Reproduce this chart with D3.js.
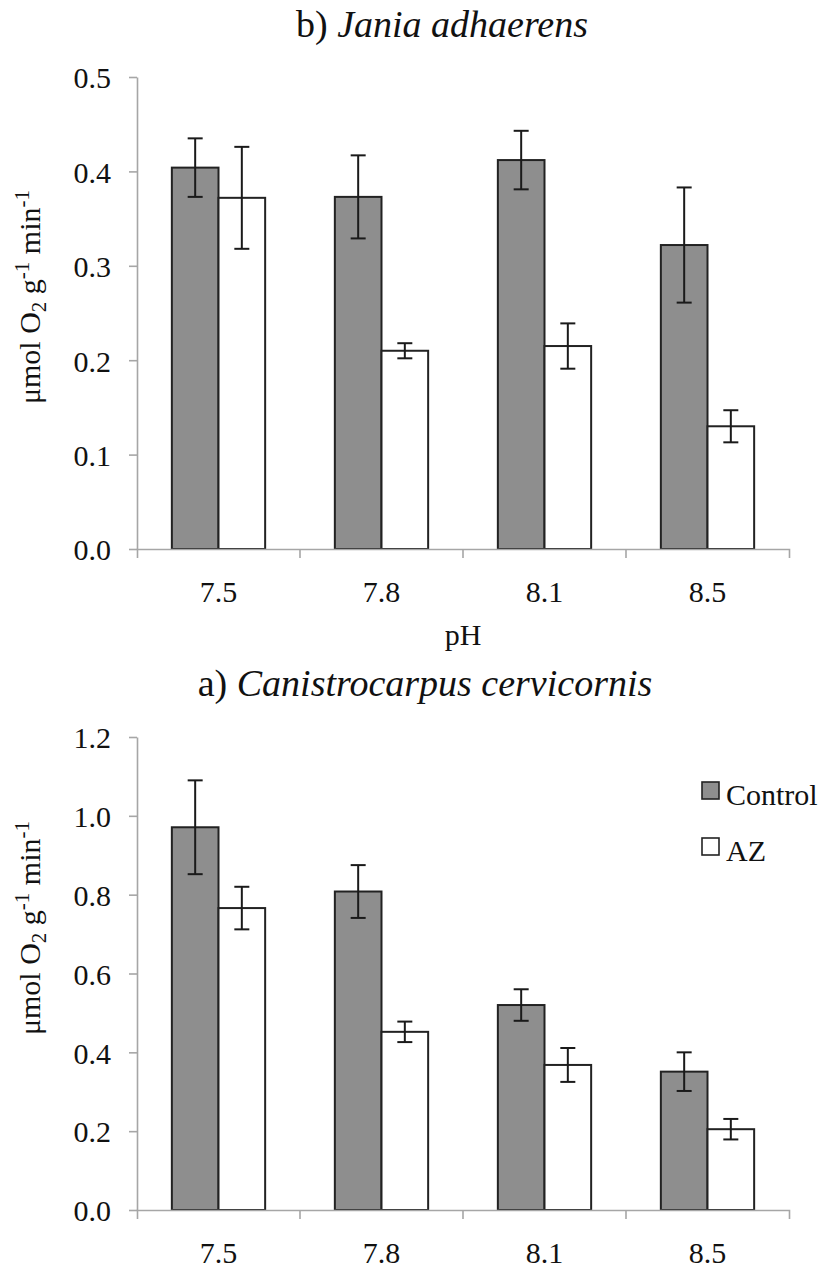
<!DOCTYPE html>
<html>
<head>
<meta charset="utf-8">
<script src="https://cdn.jsdelivr.net/npm/d3@7"></script>
<style>
  html, body { margin: 0; padding: 0; background: #fff; }
  svg { display: block; }
</style>
</head>
<body>
<svg id="chart" width="824" height="1269"></svg>
<script>
// pH treatments and series
const phLevels = ["7.5", "7.8", "8.1", "8.5"];
const seriesNames = ["Control", "AZ"];

// b) Jania adhaerens — mean rates and standard errors
const janiaControl    = [0.404, 0.373, 0.412, 0.322];
const janiaControlErr = [0.031, 0.044, 0.031, 0.061];
const janiaAZ         = [0.372, 0.210, 0.215, 0.130];
const janiaAZErr      = [0.054, 0.008, 0.024, 0.017];
const janiaTicks      = [0.0, 0.1, 0.2, 0.3, 0.4, 0.5];

// a) Canistrocarpus cervicornis — mean rates and standard errors
const canisControl    = [0.971, 0.808, 0.520, 0.351];
const canisControlErr = [0.119, 0.067, 0.040, 0.049];
const canisAZ         = [0.766, 0.452, 0.368, 0.205];
const canisAZErr      = [0.054, 0.026, 0.043, 0.026];
const canisTicks      = [0.0, 0.2, 0.4, 0.6, 0.8, 1.0, 1.2];

const seriesFill = { Control: "#8e8e8e", AZ: "#ffffff" };
const axisGrey = "#a6a6a6";
const ink = "#222222";
const serif = '"Liberation Serif", "Times New Roman", serif';

const svg = d3.select("#chart");

function serifText(sel, size) {
  return sel.style("font-family", serif).style("font-size", size + "px").attr("fill", "#111");
}

function buildRows(ctrl, ctrlErr, az, azErr) {
  return phLevels.map((ph, i) => ({
    ph,
    values: [
      { key: "Control", v: ctrl[i], e: ctrlErr[i] },
      { key: "AZ", v: az[i], e: azErr[i] }
    ]
  }));
}

function drawPanel(opts) {
  const { rows, ticks, yMax, top, bottom, left, right,
          title, titlePrefix, titleX, titleY, showXTitle, yLabelY } = opts;

  const x0 = d3.scaleBand().domain(phLevels).range([left, right]).padding(0);
  const x1 = d3.scaleBand().domain(seriesNames)
    .range([0, x0.bandwidth()]).paddingInner(0).paddingOuter(0.747);
  const y = d3.scaleLinear().domain([0, yMax]).range([bottom, top]);

  const g = svg.append("g");

  // title
  const t = serifText(g.append("text"), 38)
    .attr("x", titleX).attr("y", titleY)
    .attr("text-anchor", "middle");
  t.append("tspan").text(titlePrefix + " ");
  t.append("tspan").style("font-style", "italic").text(title);

  // y axis
  const yAxis = g.append("g")
    .attr("transform", `translate(${left},0)`)
    .call(d3.axisLeft(y).tickValues(ticks).tickFormat(d3.format(".1f"))
      .tickSize(8).tickSizeOuter(0).tickPadding(18));
  yAxis.select(".domain").attr("stroke", axisGrey).attr("stroke-width", 1.6);
  yAxis.selectAll(".tick line").attr("stroke", axisGrey).attr("stroke-width", 1.6);
  serifText(yAxis.selectAll(".tick text"), 30).attr("dy", "0.36em");

  // bars
  const groups = g.selectAll("g.grp").data(rows).join("g")
    .attr("class", "grp")
    .attr("transform", d => `translate(${x0(d.ph)},0)`);

  groups.selectAll("rect").data(d => d.values).join("rect")
    .attr("x", d => x1(d.key))
    .attr("y", d => y(d.v))
    .attr("width", x1.bandwidth())
    .attr("height", d => y(0) - y(d.v))
    .attr("fill", d => seriesFill[d.key])
    .attr("stroke", ink).attr("stroke-width", 2);

  // error bars
  const capHalf = 7.5;
  const eb = groups.selectAll("g.err").data(d => d.values).join("g")
    .attr("class", "err")
    .attr("stroke", "#1a1a1a").attr("stroke-width", 2);
  eb.append("line")
    .attr("x1", d => x1(d.key) + x1.bandwidth() / 2)
    .attr("x2", d => x1(d.key) + x1.bandwidth() / 2)
    .attr("y1", d => y(d.v + d.e)).attr("y2", d => y(d.v - d.e));
  eb.append("line")
    .attr("x1", d => x1(d.key) + x1.bandwidth() / 2 - capHalf)
    .attr("x2", d => x1(d.key) + x1.bandwidth() / 2 + capHalf)
    .attr("y1", d => y(d.v + d.e)).attr("y2", d => y(d.v + d.e));
  eb.append("line")
    .attr("x1", d => x1(d.key) + x1.bandwidth() / 2 - capHalf)
    .attr("x2", d => x1(d.key) + x1.bandwidth() / 2 + capHalf)
    .attr("y1", d => y(d.v - d.e)).attr("y2", d => y(d.v - d.e));

  // x axis: line, category boundary ticks and centred labels
  const xAxis = g.append("g")
    .attr("transform", `translate(0,${bottom})`)
    .call(d3.axisBottom(x0).tickSize(0).tickSizeOuter(9).tickPadding(32));
  xAxis.select(".domain").attr("stroke", axisGrey).attr("stroke-width", 1.6);
  serifText(xAxis.selectAll(".tick text"), 30);
  xAxis.selectAll("line.sep").data(phLevels.slice(1)).join("line")
    .attr("class", "sep")
    .attr("x1", d => x0(d)).attr("x2", d => x0(d))
    .attr("y1", 0).attr("y2", 9)
    .attr("stroke", axisGrey).attr("stroke-width", 1.6);

  if (showXTitle) {
    serifText(g.append("text"), 30)
      .attr("x", (left + right) / 2).attr("y", bottom + 96)
      .attr("text-anchor", "middle")
      .text("pH");
  }

  // y axis title with sub/superscripts
  const yl = serifText(g.append("text"), 30)
    .attr("transform", `translate(40,${yLabelY}) rotate(-90)`)
    .attr("text-anchor", "middle");
  yl.append("tspan").text("μmol O");
  yl.append("tspan").style("font-size", "21px").attr("dy", 6).text("2");
  yl.append("tspan").attr("dy", -6).text(" g");
  yl.append("tspan").style("font-size", "21px").attr("dy", -11).text("-1");
  yl.append("tspan").attr("dy", 11).text(" min");
  yl.append("tspan").style("font-size", "21px").attr("dy", -11).text("-1");

  return { x0, x1, y };
}

// b) top panel
drawPanel({
  rows: buildRows(janiaControl, janiaControlErr, janiaAZ, janiaAZErr),
  ticks: janiaTicks, yMax: 0.5,
  top: 77, bottom: 549, left: 137, right: 789,
  titlePrefix: "b)", title: "Jania adhaerens", titleX: 442, titleY: 37,
  showXTitle: true, yLabelY: 297
});

// a) bottom panel
drawPanel({
  rows: buildRows(canisControl, canisControlErr, canisAZ, canisAZErr),
  ticks: canisTicks, yMax: 1.2,
  top: 737, bottom: 1210, left: 137, right: 789,
  titlePrefix: "a)", title: "Canistrocarpus cervicornis", titleX: 425, titleY: 696,
  showXTitle: false, yLabelY: 928
});

// legend
const legendItems = [
  { key: "Control", y: 782, ty: 805 },
  { key: "AZ", y: 838, ty: 861 }
];
const lg = svg.append("g");
lg.selectAll("rect").data(legendItems).join("rect")
  .attr("x", 702).attr("y", d => d.y)
  .attr("width", 17).attr("height", 17)
  .attr("fill", d => seriesFill[d.key])
  .attr("stroke", ink).attr("stroke-width", 1.6);
serifText(lg.selectAll("text").data(legendItems).join("text"), 30)
  .attr("x", 726).attr("y", d => d.ty)
  .text(d => d.key);
</script>
</body>
</html>
